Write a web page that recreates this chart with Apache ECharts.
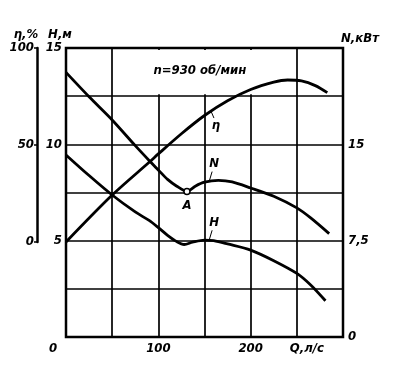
<!DOCTYPE html>
<html>
<head>
<meta charset="utf-8">
<script src="https://cdn.jsdelivr.net/npm/echarts@6/dist/echarts.min.js"></script>
<style>
html,body{margin:0;padding:0;background:#fff;}
#c{width:409px;height:369px;}
</style>
</head>
<body>
<div id="c"></div>
<script>
// ---- data ----
const Q_H = [0, 25, 50, 75, 90, 100, 110, 120, 128, 137, 150, 160, 175, 200, 225, 250, 265, 281];
const H_VALUES = [9.45, 8.38, 7.37, 6.49, 6.05, 5.68, 5.28, 4.95, 4.80, 4.92, 5.03, 5.0, 4.83, 4.51, 3.96, 3.30, 2.70, 1.88];

const Q_N = [0, 25, 50, 75, 91, 100, 110, 120, 131, 140, 150, 165, 180, 200, 225, 250, 265, 285];
const N_VALUES = [20.6, 18.7, 16.9, 14.9, 13.67, 13.0, 12.27, 11.74, 11.33, 11.74, 12.05, 12.19, 12.07, 11.6, 10.96, 10.05, 9.27, 8.05];

const Q_ETA = [0, 50, 91, 100, 125, 150, 175, 200, 225, 240, 255, 270, 283];
const ETA_VALUES = [0, 24.2, 41.5, 45.4, 55.8, 65.2, 72.8, 78.6, 82.4, 83.5, 83.0, 80.6, 77.0];

const POINT_A_Q = 131;            // marked point "A" on the N curve
const X_TICK_LABELS = {0: '0', 100: '100', 200: '200', 250: 'Q,л/с'};
const H_TICK_LABELS = {5: '5', 10: '10', 15: '15'};
const N_TICK_LABELS = {0: '0', 7.5: '7,5', 15: '15'};
const ETA_TICK_LABELS = {0: '0', 50: '50', 100: '100'};
const TITLE_TEXT = 'n=930 об/мин';

// curve name callouts (anchor on the curve, in data units)
const CALLOUTS = [
  {text: 'η', axis: 'eta', q: 157, v: 67.5},
  {text: 'N', axis: 'n', q: 155, v: 12.1},
  {text: 'H', axis: 'h', q: 155, v: 5.02}
];

// ---- styling ----
const FONT = "'Liberation Sans Narrow', 'DejaVu Sans Condensed', sans-serif";
const txt = {color: '#000', fontFamily: FONT, fontStyle: 'italic', fontWeight: 'bold', fontSize: 13};
const CSSFONT = 'italic bold 13px ' + FONT;

const chart = echarts.init(document.getElementById('c'), null, {renderer: 'canvas'});

const zip = (xs, ys) => xs.map((x, i) => [x, ys[i]]);
const nData = zip(Q_N, N_VALUES).map(p => p[0] === POINT_A_Q ? {
  value: p, symbol: 'circle', symbolSize: 6,
  itemStyle: {color: '#fff', borderColor: '#000', borderWidth: 1.5},
  label: {show: true, formatter: 'A', position: 'bottom', distance: 4, ...txt}
} : p);

const lineStyle = {color: '#000', width: 2.8};
const gridLine = {show: true, lineStyle: {color: '#000', width: 1.7}};

const option = {
  animation: false,
  backgroundColor: '#fff',
  grid: [
    {left: 66, top: 48, width: 277, height: 289, show: true, borderColor: '#000', borderWidth: 2.5, backgroundColor: 'transparent'},
    {left: 66, top: 48, width: 277, height: 194, show: false}
  ],
  xAxis: [
    {gridIndex: 0, type: 'value', min: 0, max: 300, interval: 50,
     axisLine: {show: false}, axisTick: {show: false},
     splitLine: gridLine,
     axisLabel: {margin: 5, ...txt,
       formatter: v => v === 0 ? '{z|0}' : v === 250 ? '{q|' + X_TICK_LABELS[v] + '}' : (X_TICK_LABELS[v] || ''),
       rich: {z: {...txt, padding: [0, 26, 0, 0]}, q: {...txt, padding: [0, 0, 0, 20]}}}},
    {gridIndex: 1, type: 'value', min: 0, max: 300, show: false}
  ],
  yAxis: [
    {gridIndex: 0, type: 'value', min: 0, max: 15, interval: 2.5, position: 'left',
     name: 'H,м', nameLocation: 'end', nameGap: 6, nameTextStyle: {...txt, padding: [0, 12, 0, 0]},
     axisLine: {show: false, onZero: false}, axisTick: {show: false},
     splitLine: gridLine,
     axisLabel: {margin: 4, ...txt, formatter: v => H_TICK_LABELS[v] || ''}},
    {gridIndex: 0, type: 'value', min: 0, max: 22.5, interval: 7.5, position: 'right',
     name: 'N,кВт', nameLocation: 'end', nameGap: 3, nameTextStyle: {...txt, padding: [0, 0, 0, 34]},
     axisLine: {show: false, onZero: false}, axisTick: {show: false}, splitLine: {show: false},
     axisLabel: {margin: 5, ...txt, formatter: v => N_TICK_LABELS[v] || ''}},
    {gridIndex: 1, type: 'value', min: 0, max: 100, interval: 50, position: 'left', offset: 29,
     name: 'η,%', nameLocation: 'end', nameGap: 6, nameTextStyle: {...txt, padding: [0, 22, 0, 0]},
     axisLine: {show: true, onZero: false, lineStyle: {color: '#000', width: 2.5}},
     axisTick: {show: true, length: 3, lineStyle: {color: '#000', width: 1.5}},
     splitLine: {show: false},
     axisLabel: {margin: 3, ...txt, formatter: v => ETA_TICK_LABELS[v] || ''}}
  ],
  series: [
    {name: 'H', type: 'line', xAxisIndex: 0, yAxisIndex: 0, data: zip(Q_H, H_VALUES),
     smooth: 0.3, symbol: 'none', lineStyle, z: 3},
    {name: 'N', type: 'line', xAxisIndex: 0, yAxisIndex: 1, data: nData,
     smooth: 0.25, symbol: 'none', lineStyle, z: 3},
    {name: 'η', type: 'line', xAxisIndex: 1, yAxisIndex: 2, data: zip(Q_ETA, ETA_VALUES),
     smooth: 0.3, symbol: 'none', lineStyle, z: 3}
  ]
};
chart.setOption(option);

// ---- graphics: blank box behind the title, title text, curve callouts ----
function px(axis, q, v) {
  if (axis === 'eta') return chart.convertToPixel({xAxisIndex: 1, yAxisIndex: 2}, [q, v]);
  if (axis === 'n') return chart.convertToPixel({xAxisIndex: 0, yAxisIndex: 1}, [q, v]);
  return chart.convertToPixel({xAxisIndex: 0, yAxisIndex: 0}, [q, v]);
}
const g = [];
const tl = chart.convertToPixel({xAxisIndex: 0, yAxisIndex: 0}, [50, 15]);
const br = chart.convertToPixel({xAxisIndex: 0, yAxisIndex: 0}, [250, 12.5]);
g.push({type: 'rect', z: 1, silent: true,
  shape: {x: tl[0] + 2, y: tl[1] + 2, width: br[0] - tl[0] - 3.5, height: br[1] - tl[1] - 4},
  style: {fill: '#fff'}});
const tc = chart.convertToPixel({xAxisIndex: 0, yAxisIndex: 0}, [145, 13.85]);
g.push({type: 'text', z: 5, x: tc[0], y: tc[1],
  style: {text: TITLE_TEXT, fill: '#000', font: CSSFONT, align: 'center', verticalAlign: 'middle'}});

CALLOUTS.forEach(c => {
  const p = px(c.axis, c.q, c.v);
  const up = c.axis !== 'eta';
  const e = up ? [p[0] + 3, p[1] - 10] : [p[0] + 3, p[1] + 7];
  const t = up ? [p[0] + 5, p[1] - 18] : [p[0] + 5, p[1] + 15];
  g.push({type: 'line', z: 5, shape: {x1: p[0], y1: p[1], x2: e[0], y2: e[1]},
    style: {stroke: '#000', lineWidth: 1}});
  g.push({type: 'text', z: 5, x: t[0], y: t[1],
    style: {text: c.text, fill: '#000', font: CSSFONT, align: 'center', verticalAlign: 'middle'}});
});
chart.setOption({graphic: g});
</script>
</body>
</html>
